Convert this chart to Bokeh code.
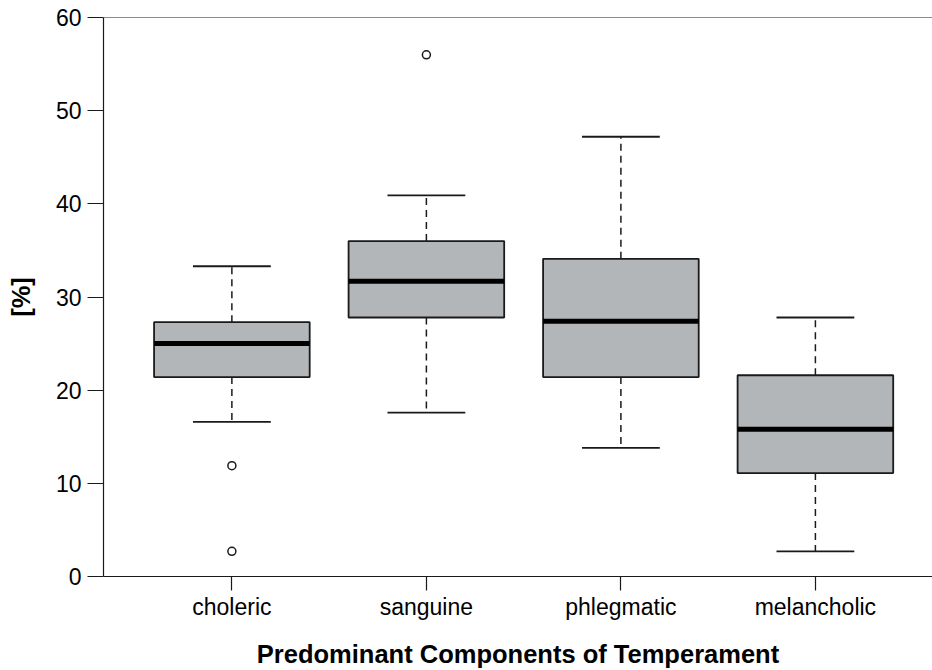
from bokeh.plotting import figure
from bokeh.models import Range1d, FixedTicker, Span, ColumnDataSource
from bokeh.embed import file_html
from bokeh.resources import INLINE

categories = ["choleric", "sanguine", "phlegmatic", "melancholic"]
lower_whisker = [16.6, 17.6, 13.8, 2.7]
q1 = [21.4, 27.8, 21.4, 11.1]
median = [25.0, 31.7, 27.4, 15.8]
q3 = [27.3, 36.0, 34.1, 21.6]
upper_whisker = [33.3, 40.9, 47.2, 27.8]
outlier_cat = ["choleric", "choleric", "sanguine"]
outlier_val = [11.9, 2.7, 56.0]
y_ticks = [0, 10, 20, 30, 40, 50, 60]

pos = [i + 1 for i in range(len(categories))]
box_w = 0.8
cap_w = 0.4

src = ColumnDataSource(dict(
    x=pos,
    lw=lower_whisker, q1=q1, med=median, q3=q3, uw=upper_whisker,
    bx0=[x - box_w / 2 for x in pos], bx1=[x + box_w / 2 for x in pos],
    cx0=[x - cap_w / 2 for x in pos], cx1=[x + cap_w / 2 for x in pos],
))
out_src = ColumnDataSource(dict(
    x=[categories.index(c) + 1 for c in outlier_cat],
    y=outlier_val,
))

FONT = "Liberation Sans"
INK = "#1a1a1a"

p = figure(width=932, height=670, output_backend="svg", toolbar_location=None,
           x_range=Range1d(0.34, 4.602), y_range=Range1d(0, 60),
           min_border_left=103, min_border_top=17, min_border_bottom=93,
           min_border_right=0)
p.outline_line_color = None
p.xgrid.grid_line_color = None
p.ygrid.grid_line_color = None
p.background_fill_color = "white"

# whiskers (dashed)
p.segment(x0="x", y0="q3", x1="x", y1="uw", source=src, line_color=INK,
          line_width=1.5, line_dash="7 5")
p.segment(x0="x", y0="q1", x1="x", y1="lw", source=src, line_color=INK,
          line_width=1.5, line_dash="7 5")
# caps
p.segment(x0="cx0", y0="uw", x1="cx1", y1="uw", source=src, line_color=INK, line_width=1.8)
p.segment(x0="cx0", y0="lw", x1="cx1", y1="lw", source=src, line_color=INK, line_width=1.8)
# boxes
p.quad(left="bx0", right="bx1", bottom="q1", top="q3", source=src,
       fill_color="#b3b6b8", line_color=INK, line_width=1.8)
# medians
p.segment(x0="bx0", y0="med", x1="bx1", y1="med", source=src, line_color="black", line_width=5)
# outliers
p.scatter(x="x", y="y", source=out_src, marker="circle", size=8,
          fill_color="white", line_color=INK, line_width=1.5)

# top frame line
p.add_layout(Span(location=60, dimension="width", line_color=INK, line_width=1.2))

# axes
p.yaxis.ticker = FixedTicker(ticks=y_ticks)
p.yaxis.axis_label = "[%]"
p.yaxis.major_tick_out = 16
p.yaxis.major_tick_in = 0
p.yaxis.minor_tick_line_color = None
p.yaxis.major_label_standoff = 6
p.yaxis.axis_label_standoff = 18

p.xaxis.ticker = FixedTicker(ticks=pos)
p.xaxis.major_label_overrides = {x: c for x, c in zip(pos, categories)}
p.xaxis.axis_label = "Predominant Components of Temperament"
p.xaxis.major_tick_out = 14
p.xaxis.major_tick_in = 0
p.xaxis.minor_tick_line_color = None
p.xaxis.major_label_standoff = 3
p.xaxis.axis_label_standoff = 17

for ax in (p.xaxis, p.yaxis):
    ax.axis_line_color = INK
    ax.axis_line_width = 1.2
    ax.major_tick_line_color = INK
    ax.major_tick_line_width = 1.2
    ax.major_label_text_font = FONT
    ax.major_label_text_font_size = "23px"
    ax.major_label_text_color = "black"
    ax.axis_label_text_font = FONT
    ax.axis_label_text_font_size = "25.5px"
    ax.axis_label_text_font_style = "bold"
    ax.axis_label_text_color = "black"

open("out.html", "w").write(file_html(p, INLINE))
